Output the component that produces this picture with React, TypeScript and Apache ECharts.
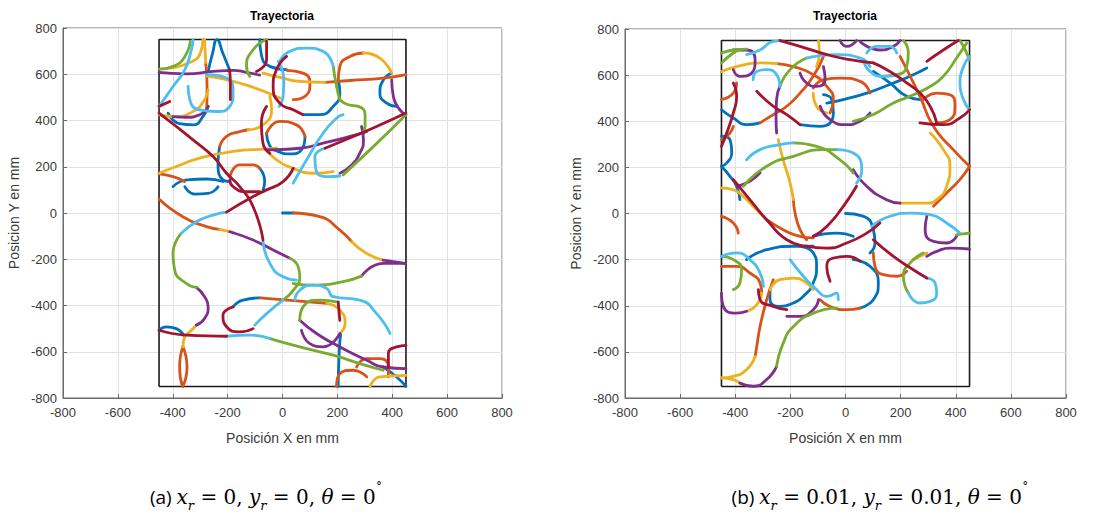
import React, { useEffect, useRef } from "react";
import * as echarts from "echarts";

type Stroke = number[][];

const boxCorners: Stroke = [[-450, -750], [450, -750], [450, 750], [-450, 750], [-450, -750]];

const aBlue: Stroke[] = [
  [[0, 0], [40, 0]],
  [[-271, 612], [-255, 690], [-239, 750], [-217, 690], [-193, 619]],
  [[-417, 432], [-375, 386], [-326, 381], [-290, 417], [-271, 461]],
  [[-83, 750], [-77, 684], [-46, 634], [15, 620]],
  [[75, 425], [136, 425], [185, 461], [209, 518], [203, 576]],
  [[398, 605], [368, 576], [355, 518], [380, 475], [416, 461]],
  [[82, 331], [69, 273], [27, 256], [-16, 266], [-48, 295], [-58, 345]],
  [[-229, 287], [-235, 215], [-217, 143], [-192, 136]],
  [[-399, 114], [-350, 143], [-277, 147], [-217, 136]],
  [[-356, 114], [-320, 82], [-271, 85], [-235, 114]],
  [[-83, 193], [-65, 136], [-71, 100]],
  [[-180, -406], [-144, -377], [-83, -367]],
  [[-450, -507], [-423, -492], [-387, -500], [-357, -536]],
  [[212, -521], [207, -593], [203, -750]],
  [[367, -666], [416, -709], [450, -750]],
];
const aOrange: Stroke[] = [
  [[40, 0], [136, -16], [209, -74], [252, -124]],
  [[-280, 650], [-275, 550], [-276, 447]],
  [[15, 617], [75, 605], [100, 562], [82, 504], [39, 490]],
  [[155, 565], [246, 573], [367, 583], [450, 598]],
  [[203, 569], [209, 634], [246, 677], [295, 692]],
  [[-58, 345], [-10, 396], [51, 381], [82, 331]],
  [[-229, 287], [-204, 331], [-156, 352], [-125, 360]],
  [[-450, 169], [-399, 157], [-357, 136]],
  [[-450, 61], [-363, -16], [-277, -59], [-229, -71]],
  [[-192, 157], [-156, 208], [-107, 208], [-83, 193]],
  [[-83, -367], [63, -381], [161, -391]],
  [[-363, -579], [-375, -666], [-365, -750]],
  [[-363, -579], [-348, -666], [-363, -750]],
  [[197, -750], [209, -695], [258, -680], [307, -709]],
  [[270, -666], [307, -630], [355, -630], [386, -666], [386, -709]],
];
const aYellow: Stroke[] = [
  [[252, -124], [307, -175], [367, -204]],
  [[-284, 750], [-280, 650]],
  [[-290, 750], [-300, 690], [-340, 650], [-420, 625]],
  [[-277, 593], [-180, 569], [-83, 533], [-10, 497]],
  [[-71, 605], [2, 583], [63, 569], [155, 565]],
  [[295, 692], [355, 670], [398, 605]],
  [[-450, 425], [-399, 417], [-326, 439], [-284, 490], [-271, 533]],
  [[-125, 360], [-71, 381], [-40, 446], [-46, 504]],
  [[-450, 172], [-387, 201], [-302, 237], [-180, 266], [-58, 277], [-22, 280]],
  [[-58, 273], [-22, 230], [39, 193], [112, 172], [185, 179]],
  [[-229, -71], [-180, -84]],
  [[-314, -485], [-338, -514], [-357, -536], [-363, -579]],
  [[161, -391], [209, -420], [228, -478], [209, -521]],
  [[319, -750], [355, -709], [450, -702]],
];
const aPurple: Stroke[] = [
  [[367, -204], [447, -218]],
  [[447, -218], [367, -218], [288, -273]],
  [[-450, 608], [-350, 602], [-253, 612], [-180, 617], [-131, 608], [-83, 596]],
  [[-399, 417], [-350, 414], [-302, 425], [-271, 461]],
  [[398, 576], [404, 504], [428, 446], [450, 425]],
  [[-58, 273], [63, 280], [148, 302], [246, 331], [307, 352]],
  [[288, 374], [295, 316], [282, 259], [246, 201], [209, 172]],
  [[-192, -81], [-107, -117], [-34, -160], [27, -196]],
  [[-314, -322], [-284, -362], [-271, -406], [-284, -456], [-314, -485]],
  [[209, -521], [148, -579], [100, -565], [69, -507]],
  [[63, -464], [124, -521], [209, -579], [307, -637], [367, -666], [450, -673]],
];
const aGreen: Stroke[] = [
  [[-450, 622], [-393, 637], [-356, 677], [-336, 742]],
  [[-58, 750], [-107, 706], [-131, 634], [-119, 591]],
  [[185, 634], [197, 547], [209, 490]],
  [[209, 490], [240, 468], [276, 461], [301, 425], [301, 374], [288, 345]],
  [[221, 165], [331, 287], [450, 425]],
  [[-369, -88], [-399, -175], [-393, -247], [-350, -305], [-314, -322]],
  [[39, -305], [124, -312], [221, -297], [288, -273]],
  [[27, -196], [57, -232], [63, -276], [45, -326], [2, -377]],
  [[63, -464], [75, -406], [136, -377], [197, -384]],
  [[-46, -543], [63, -579], [185, -615], [282, -651], [367, -680]],
];
const aCyan: Stroke[] = [
  [[-450, 460], [-399, 547], [-356, 620], [-332, 706], [-326, 750]],
  [[-277, 598], [-204, 584], [-180, 519], [-192, 461], [-241, 439], [-302, 446], [-338, 490], [-344, 548]],
  [[-10, 656], [27, 699], [88, 713], [148, 699], [185, 634]],
  [[-16, 656], [5, 576], [2, 504], [-12, 461]],
  [[39, 129], [88, 230], [148, 345], [197, 410], [221, 425]],
  [[155, 280], [118, 244], [122, 186], [167, 157], [209, 160]],
  [[-369, -88], [-314, -38], [-253, -9], [-204, 4]],
  [[-71, -124], [-46, -218], [2, -276], [51, -290]],
  [[2, -377], [-58, -435], [-101, -485]],
  [[45, -377], [63, -334], [112, -312], [161, -326], [185, -362], [282, -377], [343, -435], [392, -521]],
  [[-204, -533], [-119, -528], [-46, -543]],
];
const aRed: Stroke[] = [
  [[-193, 619], [-190, 560], [-190, 490]],
  [[-58, 742], [-58, 663], [-95, 612]],
  [[15, 677], [-22, 619], [-34, 547], [-10, 475], [39, 446], [75, 425]],
  [[155, 280], [258, 331], [343, 374], [450, 432]],
  [[-58, 461], [-77, 388], [-71, 302], [-46, 258]],
  [[39, 193], [2, 136], [-58, 100], [-107, 71], [-204, 4]],
  [[-450, 432], [-387, 374], [-326, 316], [-253, 244], [-204, 172], [-156, 114], [-107, 27], [-71, -117]],
  [[-450, 461], [-411, 482]],
  [[-83, 92], [-131, 92], [-180, 114], [-192, 143]],
  [[-180, -406], [-217, -442], [-204, -492], [-156, -514], [-107, -500]],
  [[203, -384], [209, -464]],
  [[-450, -507], [-350, -528], [-204, -533]],
  [[386, -666], [386, -608], [416, -579], [450, -572]],
];

const bBlue: Stroke[] = [
  [[0, 0], [60, -10], [101, -70], [107, -128], [89, -171]],
  [[-68, 479], [-8, 494], [77, 522], [174, 566], [234, 595], [295, 631]],
  [[-450, 450], [-407, 414], [-359, 385], [-310, 393]],
  [[-165, 385], [-92, 378], [-44, 436], [-50, 494], [-80, 515]],
  [[-450, 335], [-419, 320], [-413, 262], [-431, 219], [-450, 205]],
  [[-450, 205], [-419, 161], [-395, 118], [-383, 60]],
  [[-359, -200], [-286, -157], [-189, -142], [-117, -142]],
  [[-117, -99], [-32, -85], [28, -99]],
  [[-165, -142], [-117, -171], [-105, -229], [-117, -301], [-153, -359], [-189, -388], [-238, -403], [-274, -374], [-274, -330]],
  [[28, -200], [89, -229], [119, -301], [101, -374], [53, -410]],
  [[101, 616], [161, 566], [222, 508], [270, 494]],
];
const bOrange: Stroke[] = [
  [[-250, 650], [-189, 637], [-117, 602], [-68, 551], [-44, 494], [-56, 436]],
  [[-450, 494], [-407, 522], [-395, 566]],
  [[-310, 393], [-262, 429], [-213, 465], [-165, 522], [-117, 595], [-80, 681]],
  [[-117, 544], [-80, 580], [-20, 587], [53, 573], [89, 522]],
  [[198, 681], [270, 508], [319, 378], [391, 277], [450, 205]],
  [[450, 205], [415, 147], [367, 89], [319, 31]],
  [[282, 494], [331, 522], [379, 515], [397, 465], [379, 407], [331, 393]],
  [[-286, -27], [-226, -70], [-165, -99], [-117, -106]],
  [[-450, -12], [-407, -41], [-389, -85]],
  [[-450, -229], [-395, -229], [-347, -258], [-310, -301], [-304, -345]],
  [[-262, -287], [-286, -374], [-310, -490], [-322, -577], [-328, -620]],
  [[101, -171], [107, -229], [137, -265], [186, -272], [222, -251]],
  [[53, -410], [4, -417], [-56, -403], [-92, -374]],
  [[-189, 60], [-183, 2], [-165, -70], [-141, -114]],
  [[-450, 320], [-419, 349], [-407, 378]],
];
const bYellow: Stroke[] = [
  [[-450, 616], [-395, 637], [-310, 653], [-250, 650]],
  [[-244, 320], [-226, 233], [-201, 132], [-189, 60]],
  [[307, 349], [355, 277], [379, 205], [367, 118], [331, 60], [295, 45], [234, 45], [198, 45]],
  [[246, -200], [295, -171]],
  [[-117, 522], [-105, 465], [-68, 436]],
  [[-450, 111], [-407, 103], [-371, 74], [-335, 31], [-286, -27]],
  [[-359, -424], [-322, -395], [-304, -345]],
  [[-274, -330], [-238, -287], [-189, -280], [-141, -301], [-117, -330]],
  [[-328, -620], [-359, -677], [-407, -706], [-450, -713]],
  [[-450, -713], [-407, -720], [-377, -742]],
  [[-98, 750], [-95, 696], [-105, 637]],
];
const bPurple: Stroke[] = [
  [[-407, 709], [-359, 709], [-328, 667], [-340, 609], [-383, 595], [-407, 624]],
  [[-238, 551], [-250, 494], [-252, 421], [-250, 349]],
  [[-165, 609], [-141, 566], [-105, 551], [-74, 580], [-80, 637]],
  [[-92, 465], [-56, 407], [4, 385], [53, 400], [89, 436]],
  [[28, 190], [77, 118], [149, 60], [198, 45]],
  [[53, 746], [125, 709], [174, 725], [198, 750]],
  [[-20, 750], [4, 725], [40, 750]],
  [[-395, 118], [-347, 140], [-310, 176]],
  [[-450, -345], [-443, -403], [-395, -432], [-359, -424]],
  [[-213, -446], [-165, -446], [-117, -417], [-98, -374]],
  [[-250, -663], [-286, -720], [-335, -749], [-383, -735]],
  [[295, -12], [289, -70], [319, -121], [367, -128], [403, -99]],
  [[295, -186], [331, -164], [379, -150], [450, -154]],
];
const bGreen: Stroke[] = [
  [[-450, 696], [-407, 709], [-359, 713]],
  [[-450, 653], [-407, 696], [-383, 709]],
  [[-238, 551], [-201, 624], [-141, 674]],
  [[28, 400], [101, 429], [174, 479], [234, 508], [307, 551], [355, 595], [403, 674], [440, 739]],
  [[210, 750], [228, 696], [222, 637], [186, 602], [125, 595]],
  [[415, 750], [428, 725], [450, 667]],
  [[-189, 306], [-105, 291], [-20, 233], [28, 176]],
  [[-371, 118], [-286, 205], [-189, 248], [-80, 277], [-32, 277]],
  [[-450, -186], [-407, -200], [-377, -244], [-383, -301], [-407, -330]],
  [[-32, -410], [-117, -432], [-189, -490], [-226, -562], [-250, -663]],
  [[282, -171], [234, -215], [210, -272], [228, -345]],
  [[403, -92], [450, -85]],
];
const bCyan: Stroke[] = [
  [[-359, 689], [-310, 709], [-262, 746], [-226, 750]],
  [[-335, 580], [-322, 616], [-286, 624], [-250, 602], [-238, 551]],
  [[-141, 674], [-32, 689], [53, 674], [89, 637]],
  [[77, 696], [113, 725], [161, 725], [186, 696]],
  [[65, 667], [89, 616], [137, 595], [186, 598]],
  [[450, 681], [428, 637], [415, 566], [428, 494], [450, 450]],
  [[-359, 233], [-310, 277], [-238, 299], [-189, 306]],
  [[-32, 277], [28, 262], [59, 190], [40, 132]],
  [[95, -56], [161, -12], [234, 2], [307, -5], [367, -41], [415, -85]],
  [[295, -280], [325, -301], [331, -345], [307, -381], [270, -388], [228, -345]],
  [[-450, -186], [-395, -171], [-347, -200], [-310, -258], [-298, -316]],
  [[-201, -200], [-153, -272], [-105, -330], [-68, -359], [-32, -345], [-26, -374]],
];
const bRed: Stroke[] = [
  [[-238, 750], [-165, 725], [-68, 689], [16, 667], [101, 653]],
  [[101, 653], [161, 616], [222, 566], [270, 522], [307, 465], [331, 393]],
  [[270, 393], [355, 385], [415, 414], [450, 450]],
  [[295, 660], [355, 709], [409, 750]],
  [[-322, 530], [-262, 465], [-213, 429], [-165, 385]],
  [[-450, 291], [-431, 349], [-407, 436], [-395, 508], [-407, 566]],
  [[-407, 147], [-347, 60], [-286, -27], [-213, -114], [-141, -142]],
  [[-141, -142], [-68, -150], [4, -128], [77, -85], [125, -41]],
  [[-117, -99], [-68, -56], [-8, 31], [40, 118]],
  [[101, -114], [174, -186], [246, -244], [295, -280]],
  [[-56, -294], [-68, -229], [-44, -193], [4, -186], [53, -207]],
  [[-316, -330], [-310, -374], [-262, -403], [-213, -417]],
];

const COLORS: Record<string, string> = {
  blue: "#0072BD",
  orange: "#D95319",
  yellow: "#EDB120",
  purple: "#7E2F8E",
  green: "#77AC30",
  cyan: "#4DBEEE",
  red: "#A2142F",
};

const FONT = "'Liberation Sans', Arial, sans-serif";
const AXIS_COLOR = "#6b6b6b";

function makeX(i: number) {
  return {
    type: "value",
    gridIndex: i,
    min: -800,
    max: 800,
    interval: 200,
    name: "Posición X en mm",
    nameLocation: "middle",
    nameGap: 33,
    nameTextStyle: { fontSize: 14, color: "#3a3a3a", fontFamily: FONT },
    axisLine: { show: true, onZero: false, lineStyle: { color: AXIS_COLOR, width: 1 } },
    axisTick: { show: true, inside: true, length: 4, lineStyle: { color: AXIS_COLOR } },
    axisLabel: { fontSize: 13, color: "#3a3a3a", margin: 8, fontFamily: FONT, showMinLabel: true, showMaxLabel: true },
    splitLine: { show: true, lineStyle: { color: "#e2e2e2", width: 1 } },
  };
}
function makeY(i: number) {
  return {
    type: "value",
    gridIndex: i,
    min: -800,
    max: 800,
    interval: 200,
    name: "Posicion Y en mm",
    nameLocation: "middle",
    nameGap: 42,
    nameTextStyle: { fontSize: 14, color: "#3a3a3a", fontFamily: FONT },
    axisLine: { show: true, onZero: false, lineStyle: { color: AXIS_COLOR, width: 1 } },
    axisTick: { show: true, inside: true, length: 4, lineStyle: { color: AXIS_COLOR } },
    axisLabel: { fontSize: 13, color: "#3a3a3a", margin: 6, fontFamily: FONT, showMinLabel: true, showMaxLabel: true },
    splitLine: { show: true, lineStyle: { color: "#e2e2e2", width: 1 } },
  };
}

function strokeSeries(idx: number, strokes: Stroke[], colorKey: string) {
  return strokes.map((s) => ({
    type: "line",
    xAxisIndex: idx,
    yAxisIndex: idx,
    data: s,
    smooth: 0.55,
    showSymbol: false,
    silent: true,
    z: 3,
    lineStyle: { color: COLORS[colorKey], width: 2.8, cap: "round", join: "round" },
  }));
}

function boxSeries(idx: number) {
  return {
    type: "line",
    xAxisIndex: idx,
    yAxisIndex: idx,
    data: boxCorners,
    showSymbol: false,
    silent: true,
    z: 2,
    lineStyle: { color: "#1a1a1a", width: 1.6 },
  };
}

function caption(cx: number, label: string, xv: string, yv: string) {
  return {
    type: "text",
    x: cx,
    y: 497,
    style: {
      text: `{s|${label} }{m|x}{sub|r}{n| = ${xv}, }{m|y}{sub|r}{n| = ${yv}, }{m|θ}{n| = 0}{sup|˚}`,
      align: "center",
      verticalAlign: "middle",
      textAlign: "center",
      textVerticalAlign: "middle",
      rich: {
        s: { fontFamily: "'Open Sans', 'Liberation Sans', sans-serif", fontSize: 19, fill: "#000", lineHeight: 30 },
        m: { fontFamily: "'DejaVu Serif', serif", fontStyle: "italic", fontSize: 20, fill: "#000", lineHeight: 30 },
        n: { fontFamily: "'DejaVu Serif', serif", fontSize: 20, fill: "#000", lineHeight: 30 },
        sub: { fontFamily: "'DejaVu Serif', serif", fontStyle: "italic", fontSize: 13, fill: "#000", lineHeight: 13, verticalAlign: "bottom" },
        sup: { fontFamily: "'DejaVu Serif', serif", fontSize: 13, fill: "#000", lineHeight: 13, verticalAlign: "top" },
      },
    },
  };
}

export default function App() {
  const ref = useRef<HTMLDivElement>(null);
  useEffect(() => {
    if (!ref.current) return;
    const chart = echarts.init(ref.current, undefined, { renderer: "svg" });
    const series: any[] = [];
    series.push(boxSeries(0), boxSeries(1));
    const aSets: [Stroke[], string][] = [
      [aBlue, "blue"], [aOrange, "orange"], [aYellow, "yellow"], [aPurple, "purple"],
      [aGreen, "green"], [aCyan, "cyan"], [aRed, "red"],
    ];
    const bSets: [Stroke[], string][] = [
      [bBlue, "blue"], [bOrange, "orange"], [bYellow, "yellow"], [bPurple, "purple"],
      [bGreen, "green"], [bCyan, "cyan"], [bRed, "red"],
    ];
    aSets.forEach(([s, c]) => series.push(...strokeSeries(0, s, c)));
    bSets.forEach(([s, c]) => series.push(...strokeSeries(1, s, c)));

    chart.setOption({
      animation: false,
      backgroundColor: "#ffffff",
      grid: [
        { left: 63, top: 28, width: 439, height: 370, show: true, borderColor: AXIS_COLOR, borderWidth: 1, backgroundColor: "transparent" },
        { left: 625, top: 29, width: 441, height: 369, show: true, borderColor: AXIS_COLOR, borderWidth: 1, backgroundColor: "transparent" },
      ],
      xAxis: [makeX(0), makeX(1)],
      yAxis: [makeY(0), makeY(1)],
      series,
      graphic: [
        {
          type: "text", x: 282, y: 16,
          style: { text: "Trayectoria", font: `bold 12px ${FONT}`, fill: "#000", align: "center", verticalAlign: "middle", textAlign: "center", textVerticalAlign: "middle" },
        },
        {
          type: "text", x: 845, y: 16,
          style: { text: "Trayectoria", font: `bold 12px ${FONT}`, fill: "#000", align: "center", verticalAlign: "middle", textAlign: "center", textVerticalAlign: "middle" },
        },
        caption(266, "(a)", "0", "0"),
        caption(880, "(b)", "0.01", "0.01"),
      ],
    });
    return () => chart.dispose();
  }, []);
  return <div ref={ref} style={{ position: "fixed", left: 0, top: 0, width: 1116, height: 521, background: "#fff" }} />;
}
